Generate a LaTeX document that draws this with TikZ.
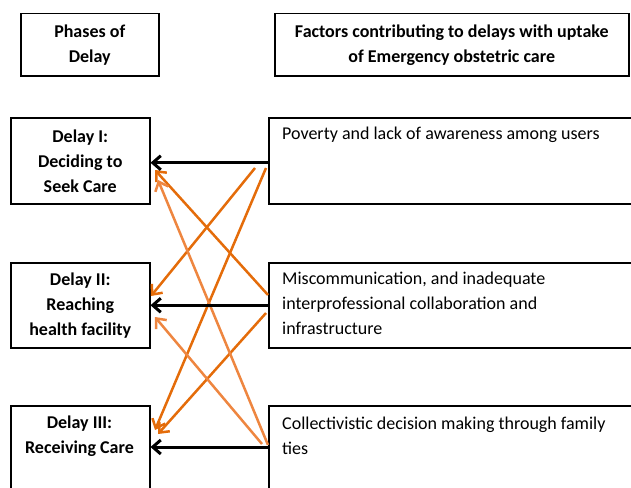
\documentclass[tikz,border=0pt]{standalone}
\usepackage{fontspec}
\setmainfont{Carlito}
\usetikzlibrary{arrows.meta}
\newcommand\fs{\fontsize{18}{25}\selectfont}
\definecolor{dorange}{HTML}{E46C0A}
\definecolor{lorange}{HTML}{EE8640}
\tikzset{
  box/.style={draw, line width=1.5pt, inner sep=0pt, anchor=north west},
  bt/.style={font=\bfseries\fs, align=center, inner sep=0pt},
  nt/.style={font=\fs, align=left, anchor=north west, inner sep=0pt},
  blk/.style={line width=3pt, -{Straight Barb[length=8pt,width=14pt]}},
  dor/.style={line width=2.5pt, draw=dorange, -{Straight Barb[length=8pt,width=14pt]}},
  lor/.style={line width=2.5pt, draw=lorange, -{Straight Barb[length=8pt,width=14pt]}},
}
\begin{document}
\begin{tikzpicture}[x=1pt,y=-1pt]
\useasboundingbox (0,0) rectangle (631,487);
\clip (0,0) rectangle (631,487);
% header boxes
\node[box, minimum width=138pt, minimum height=62pt] (hp) at (20,13) {};
\node[bt] (hpt) at (hp.center) {Phases of\\Delay};
\node[box, minimum width=354pt, minimum height=62pt] (hf) at (274,13) {};
\node[bt] (hft) at (hf.center) {Factors contributing to delays with uptake\\of Emergency obstetric care};
% left boxes
\node[box, minimum width=139pt, minimum height=86pt] (d1) at (10,117) {};
\node[bt] (d1t) at (d1.center) {Delay I:\\Deciding to\\Seek Care};
\node[box, minimum width=139pt, minimum height=85pt] (d2) at (10,262) {};
\node[bt] (d2t) at (d2.center) {Delay II:\\Reaching\\health facility};
\node[box, minimum width=139pt, minimum height=90pt] (d3) at (10,405) {};
\node[bt] (d3t) at (79.5,436) {Delay III:\\Receiving Care};
% right boxes
\node[box, minimum width=380pt, minimum height=86pt] (r1) at (268,117) {};
\node[nt] (r1t) at (282,127) {Poverty and lack of awareness among users};
\node[box, minimum width=380pt, minimum height=85pt] (r2) at (268,262) {};
\node[nt] (r2t) at (282,272) {Miscommunication, and inadequate\\interprofessional collaboration and\\infrastructure};
\node[box, minimum width=380pt, minimum height=90pt] (r3) at (268,405) {};
\node[nt] (r3t) at (282,417) {Collectivistic decision making through family\\ties};
% anchor points
\coordinate (p1a) at (255,168);
\coordinate (p1b) at (266,168);
\coordinate (p2a) at (268,295);
\coordinate (p2b) at (266,313);
\coordinate (p3a) at (268,445);
\coordinate (p3b) at (262,444);
\coordinate (t1a) at (155,170);
\coordinate (t1b) at (158,180);
\coordinate (t2a) at (151,296);
\coordinate (t2b) at (155,317);
\coordinate (t3a) at (155,430);
\coordinate (t3b) at (158,434);
% orange arrows
\draw[dor] (p1a) -- (t2a);
\draw[dor] (p1b) -- (t3a);
\draw[dor] (p2a) -- (t1a);
\draw[dor] (p2b) -- (t3b);
\draw[lor] (p3a) -- (t1b);
\draw[lor] (p3b) -- (t2b);
% black arrows
\draw[blk] ([yshift=-2pt]r1.west) -- ([yshift=-2pt]d1.east);
\draw[blk] (r2.west) -- (d2.east);
\draw[blk] (r3.west |- 0,447) -- (d3.east |- 0,447);
\end{tikzpicture}
\end{document}
